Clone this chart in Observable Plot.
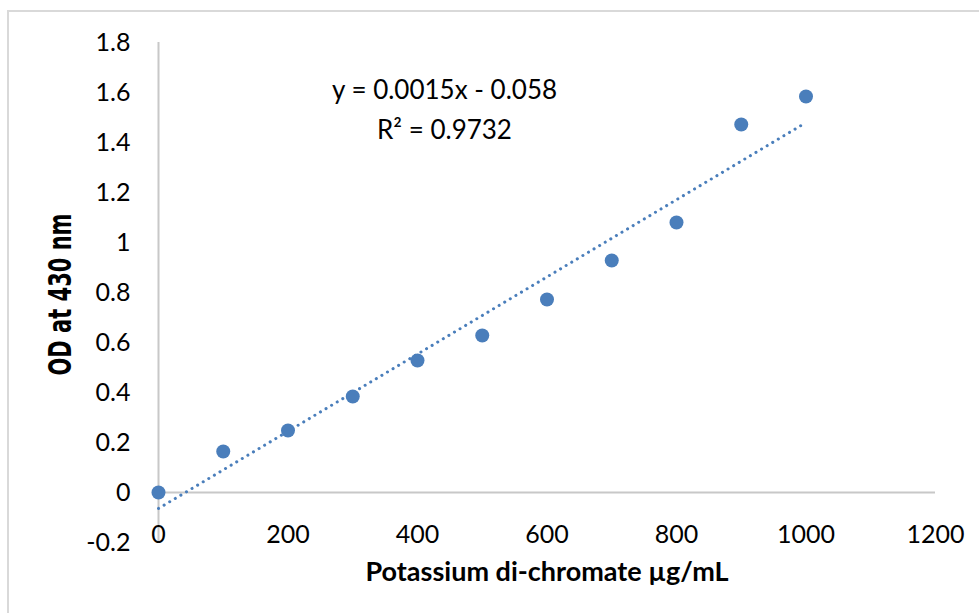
<!DOCTYPE html>
<html>
<head>
<meta charset="utf-8">
<script src="https://cdn.jsdelivr.net/npm/d3@7"></script>
<script src="https://cdn.jsdelivr.net/npm/@observablehq/plot@0.6"></script>
<style>
  html, body { margin: 0; padding: 0; background: #fff; }
  #wrap { position: relative; width: 979px; height: 613px; overflow: hidden; }
  #border { position: absolute; left: 7px; top: 10px; right: -4px; bottom: -4px; border: 2px solid #d9d9d9; }
  #chart { position: absolute; left: 0; top: 0; }
</style>
</head>
<body>
<div id="wrap"><div id="border"></div><div id="chart"></div></div>
<script>
// Data
const concentration = [0, 100, 200, 300, 400, 500, 600, 700, 800, 900, 1000];
const od430 = [0, 0.164, 0.248, 0.384, 0.528, 0.628, 0.772, 0.928, 1.08, 1.472, 1.584];
const xTicks = [0, 200, 400, 600, 800, 1000, 1200];
const yTicks = [-0.2, 0, 0.2, 0.4, 0.6, 0.8, 1, 1.2, 1.4, 1.6, 1.8];
const equationText = "y = 0.0015x - 0.058";
const r2Text = "R² = 0.9732";
const xTitle = "Potassium di-chromate µg/mL";
const yTitle = "OD at 430 nm";

const data = concentration.map((x, i) => ({x, y: od430[i]}));
const blue = "#4a7ebb";
const axisGray = "#c8c8c8";

const chart = Plot.plot({
  width: 979,
  height: 613,
  marginLeft: 158,
  marginRight: 44,
  marginTop: 42,
  marginBottom: 71,
  style: {fontFamily: "Lato, 'Open Sans', sans-serif", fontSize: "25px", background: "transparent", color: "#000"},
  x: {domain: [0, 1200]},
  y: {domain: [-0.2, 1.8]},
  marks: [
    Plot.ruleY([0], {stroke: axisGray, strokeWidth: 2}),
    Plot.ruleX([0], {y1: -0.2, y2: 1.8, stroke: axisGray, strokeWidth: 2}),
    Plot.axisX({ticks: xTicks, tickSize: 0, tickPadding: -17, tickFormat: d => String(d), label: null, fontSize: 25}),
    Plot.axisY({ticks: yTicks, tickSize: 0, tickPadding: 28, tickFormat: d => String(+d.toFixed(1)), label: null, fontSize: 25}),
    Plot.linearRegressionY(data, {x: "x", y: "y", ci: 0, stroke: blue, strokeWidth: 3, strokeDasharray: "0.1 6.4", strokeLinecap: "round"}),
    Plot.dot(data, {x: "x", y: "y", r: 7, fill: blue, stroke: "none"}),
    Plot.text([equationText], {frameAnchor: "top-left", dx: 286, dy: 48, lineAnchor: "middle", textAnchor: "middle", fontSize: 26, text: d => d}),
    Plot.text([r2Text], {frameAnchor: "top-left", dx: 286, dy: 88, lineAnchor: "middle", textAnchor: "middle", fontSize: 26, text: d => d}),
    Plot.text([xTitle], {frameAnchor: "bottom", dy: 30, lineAnchor: "middle", textAnchor: "middle", fontWeight: "bold", fontSize: 27, text: d => d}),
    Plot.text([yTitle], {frameAnchor: "left", dx: -98, dy: 2, rotate: -90, lineAnchor: "middle", textAnchor: "middle", fontWeight: "bold", fontSize: 21, fontFamily: "DejaVu Sans", text: d => d, className: "ytitle"})
  ]
});
document.getElementById("chart").appendChild(chart);
// thicken rotated y title (reference glyphs are tall relative to length)
d3.select(chart).selectAll(".ytitle text").each(function() {
  const t = this.getAttribute("transform") || "";
  this.setAttribute("transform", t + " scale(1,1.5)");
});
</script>
</body>
</html>
